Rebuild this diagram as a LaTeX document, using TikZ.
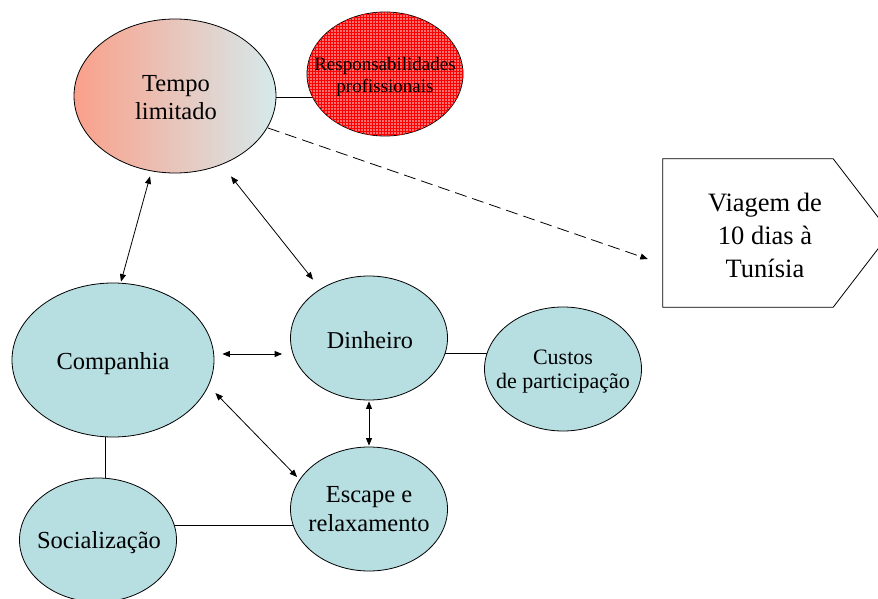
\documentclass[tikz,border=0pt]{standalone}
\usepackage{fontspec}
\setmainfont{Liberation Serif}
\usetikzlibrary{shapes.geometric,arrows.meta,patterns,backgrounds}
\definecolor{cyanfill}{RGB}{183,222,225}
\definecolor{salmon}{RGB}{250,160,138}
\definecolor{paleblue}{RGB}{214,234,236}
\definecolor{redfill}{RGB}{252,112,112}
\begin{document}
\begin{tikzpicture}[x=1pt,y=-1pt,
  ell/.style={ellipse, draw=black, line width=0.8pt, inner sep=0pt},
  cfill/.style={fill=cyanfill},
  lbl/.style={align=center, inner sep=0pt},
  tip/.tip={Triangle[length=7.5pt,width=6pt]},
  dbl/.style={tip-tip, line width=0.8pt},
  plain/.style={line width=0.8pt}
]
\useasboundingbox (0,0) rectangle (878,599);

% ellipses
\node[ell, minimum width=202pt, minimum height=154pt, left color=salmon, right color=paleblue] (tempo) at (175,96) {};
\node[ell, minimum width=156pt, minimum height=124pt, fill=redfill, postaction={pattern=grid, pattern color=red}] (resp) at (385,74) {};
\node[ell, cfill, minimum width=202pt, minimum height=154pt] (comp) at (113,360) {};
\node[ell, cfill, minimum width=157pt, minimum height=124pt] (din) at (369,338) {};
\node[ell, cfill, minimum width=157pt, minimum height=124pt] (cust) at (563,369) {};
\node[ell, cfill, minimum width=157pt, minimum height=124pt] (esc) at (369,509) {};
\node[ell, cfill, minimum width=157pt, minimum height=124pt] (soc) at (98,540) {};

% pentagon
\node[minimum width=170pt, minimum height=148pt, inner sep=0pt] (viagem) at (748,233) {};
\draw[plain, fill=white] (viagem.north west) -- (viagem.north east) -- ([xshift=57pt]viagem.east) -- (viagem.south east) -- (viagem.south west) -- cycle;

% labels
\node[lbl, font=\fontsize{24.5}{28}\selectfont] (tempoT) at ([shift={(1,2)}]tempo.center) {Tempo\\limitado};
\node[lbl, font=\fontsize{19}{22.5}\selectfont] (respT) at ([shift={(0,3)}]resp.center) {Responsabilidades\\profissionais};
\node[lbl, font=\fontsize{26.5}{33}\selectfont] (viagemT) at ([shift={(17,2)}]viagem.center) {Viagem de\\10 dias à\\Tunísia};
\node[lbl, font=\fontsize{24.5}{28}\selectfont] (compT) at ([shift={(0,4)}]comp.center) {Companhia};
\node[lbl, font=\fontsize{24.2}{28}\selectfont] (dinT) at ([shift={(1,2)}]din.center) {Dinheiro};
\node[lbl, font=\fontsize{22}{24}\selectfont] (custT) at ([shift={(0,3)}]cust.center) {Custos\\de participação};
\node[lbl, font=\fontsize{24.5}{29}\selectfont] (escT) at ([shift={(0,0)}]esc.center) {Escape e\\relaxamento};
\node[lbl, font=\fontsize{24.5}{28}\selectfont] (socT) at ([shift={(1,3)}]soc.center) {Socialização};

% plain lines behind the ellipses
\begin{scope}[on background layer]
\draw[plain] ([shift={(-4,1)}]tempo.east) -- ([shift={(8,23)}]resp.west);
\draw[plain] ([shift={(-5,15)}]din.east) -- ([shift={(5,-16)}]cust.west);
\draw[plain] ([shift={(-8,-4)}]comp.south) -- ([shift={(7,4)}]soc.north);
\draw[plain] ([shift={(-4,-15)}]soc.east) -- ([shift={(4,16)}]esc.west);
\end{scope}

% arrows
\draw[dbl] ([shift={(-25,3)}]tempo.south) -- ([shift={(8,-1)}]comp.north);
\draw[dbl] ([shift={(56,3)}]tempo.south) -- ([shift={(-56,4)}]din.north);
\draw[dbl] ([shift={(8,-6)}]comp.east) -- ([shift={(-8,16)}]din.west);
\draw[dbl] ([shift={(1,33)}]comp.east) -- ([shift={(7,-32)}]esc.west);
\draw[dbl] ([shift={(0,1)}]din.south) -- ([shift={(0,-1)}]esc.north);
\draw[plain, -tip, dash pattern=on 12pt off 6pt] ([shift={(93,32)}]tempo.center) -- ([shift={(-15,26)}]viagem.west);
\end{tikzpicture}
\end{document}
